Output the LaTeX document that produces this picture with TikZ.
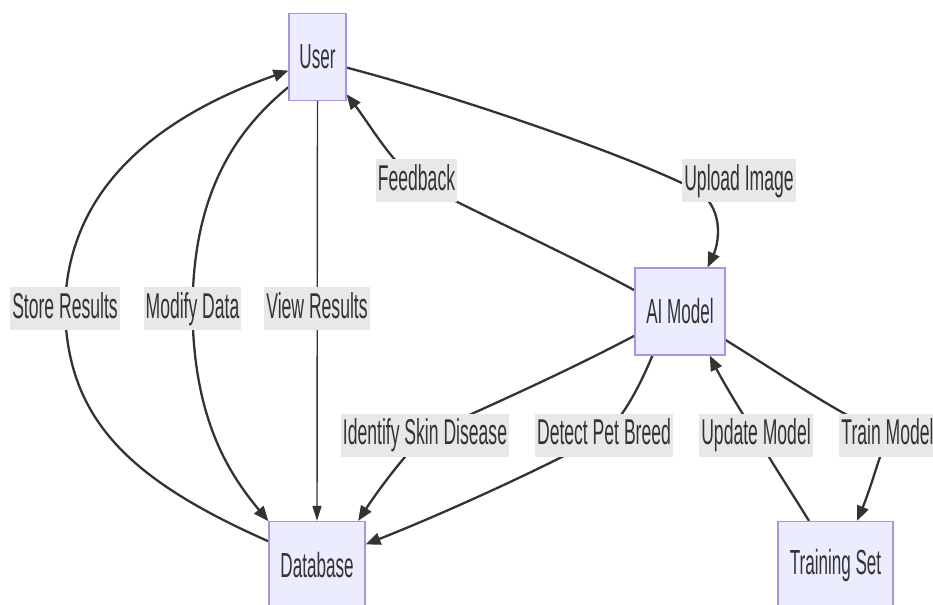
\documentclass[tikz,border=0pt]{standalone}
\usepackage{fontspec}
\usepackage{graphicx}
\setmainfont{Liberation Sans}
\usetikzlibrary{arrows.meta,backgrounds}
\definecolor{nodefill}{HTML}{ECECFF}
\definecolor{nodeline}{HTML}{A995E0}
\definecolor{edgecol}{HTML}{333333}
\definecolor{lblbg}{HTML}{E8E8E8}
\definecolor{txtcol}{HTML}{333333}
\newcommand{\sqz}[1]{\scalebox{0.49}[1]{#1}}
\tikzset{
  entity/.style={draw=nodeline, line width=1.2bp, fill=nodefill, text=txtcol,
    minimum height=87bp, inner sep=0pt, font=\fontsize{35}{40}\selectfont},
  elabel/.style={fill=lblbg, text=txtcol, inner xsep=2bp, inner ysep=4bp,
    text height=27bp, text depth=8bp, font=\fontsize{36}{40}\selectfont},
  conn/.style={draw=edgecol, line width=2.3bp, -{Triangle[length=15bp,width=12bp]}},
  thinconn/.style={draw=edgecol, line width=1.4bp, -{Triangle[length=15bp,width=9bp]}}
}
\begin{document}
\begin{tikzpicture}[x=1bp,y=-1bp]
\useasboundingbox (0,0) rectangle (933,605);
\clip (0,0) rectangle (933,605);
% entities
\node[entity, minimum width=57bp]  (user) at (317.5,57)  {\sqz{User}};
\node[entity, minimum width=90bp]  (ai)   at (680,311.5) {\sqz{AI Model}};
\node[entity, minimum width=96bp]  (db)   at (317,565)   {\sqz{Database}};
\node[entity, minimum width=115bp] (ts)   at (835.5,565) {\sqz{Training Set}};
% labels
\node[elabel] (lstore) at (65,308.5)    {\sqz{Store Results}};
\node[elabel] (lmod)   at (192.5,308.5) {\sqz{Modify Data}};
\node[elabel] (lview)  at (317,308.5)   {\sqz{View Results}};
\node[elabel] (lfeed)  at (416.5,181) {\sqz{Feedback}};
\node[elabel] (lup)    at (739,181)   {\sqz{Upload Image}};
\node[elabel] (lid)    at (425,435)   {\sqz{Identify Skin Disease}};
\node[elabel] (ldet)   at (604,435)   {\sqz{Detect Pet Breed}};
\node[elabel] (lupd)   at (756,435)   {\sqz{Update Model}};
\node[elabel] (ltrain) at (887.5,435) {\sqz{Train Model}};
% connectors
\begin{scope}[on background layer]
\draw[conn] (db.154) .. controls (130,480) and (67,420) .. (lstore.center)
  .. controls (67,190) and (155,118) .. (user.205);
\draw[conn] (user.226) .. controls (230,135) and (193,200) .. (lmod.center)
  .. controls (193,420) and (230,475) .. (db.138);
\draw[thinconn] (user.south) -- (db.north);
\draw[conn] (ai.155) .. controls (560,250) and (470,210) .. (lfeed.center)
  .. controls (390,160) and (370,125) .. (user.308);
\draw[conn] (user.340) .. controls (470,100) and (640,160) .. (700,192)
  .. controls (725,212) and (718,245) .. (ai.58);
\draw[conn] (ai.208) .. controls (560,375) and (480,410) .. (lid.center)
  .. controls (400,460) and (375,495) .. (db.47);
\draw[conn] (ai.238) .. controls (640,385) and (625,415) .. (ldet.center)
  .. controls (540,470) and (440,515) .. (db.23);
\draw[conn] (ts.121) .. controls (790,490) and (770,460) .. (lupd.center)
  .. controls (740,410) and (722,380) .. (ai.304);
\draw[conn] (ai.328) .. controls (790,380) and (840,415) .. (ltrain.center)
  .. controls (880,455) and (870,490) .. (ts.64);
\end{scope}
\end{tikzpicture}
\end{document}
